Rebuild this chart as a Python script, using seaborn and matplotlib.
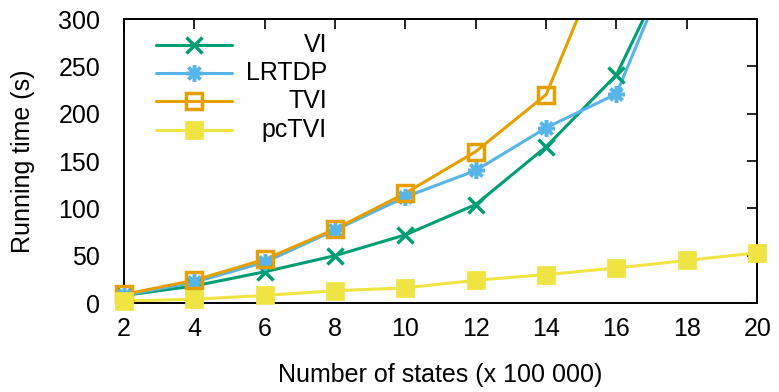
import matplotlib
matplotlib.use("Agg")
import matplotlib.pyplot as plt
import seaborn as sns
import numpy as np
from matplotlib.lines import Line2D

states = [2, 4, 6, 8, 10, 12, 14, 16, 18, 20]
vi = [8, 18, 33, 50, 72, 104, 165, 241, 395, 600]
lrtdp = [8, 22, 43, 77, 112, 140, 185, 221, 400, 600]
tvi = [9, 24, 46, 78, 116, 160, 220, 400, 600, 800]
pctvi = [2, 4, 8, 13, 16, 24, 30, 37, 45, 53]

series_names = ["VI", "LRTDP", "TVI", "pcTVI"]
series_values = [vi, lrtdp, tvi, pctvi]
colors = ["#009e73", "#56b4e9", "#e69f00", "#f0e442"]
markers = ["x", (8, 2, 0), "s", "s"]
msizes = [11, 12, 11, 13]
mfaces = [None, None, "none", None]
mews = [2.5, 2.5, 2.5, 0.5]

x_ticks = [2, 4, 6, 8, 10, 12, 14, 16, 18, 20]
y_ticks = [0, 50, 100, 150, 200, 250, 300]

sns.set_theme(style="white")
plt.rcParams["font.family"] = ["Liberation Sans", "DejaVu Sans"]
plt.rcParams["text.color"] = "black"
plt.rcParams["axes.labelcolor"] = "black"
FS = 18

fig = plt.figure(figsize=(7.79, 3.92), dpi=100)
ax = fig.add_axes([0.159, 0.227, 0.813, 0.7245])

for name, vals, c, m, ms, mf, mew in zip(series_names, series_values, colors, markers, msizes, mfaces, mews):
    sns.lineplot(x=states, y=vals, color=c, linewidth=2.2, ax=ax, zorder=2)
    xs = [s for s, v in zip(states, vals) if v <= 300]
    ys = [v for v in vals if v <= 300]
    kw = dict(markerfacecolor=c if mf is None else mf)
    sns.lineplot(x=xs, y=ys, color=c, linestyle="", marker=m, markersize=ms,
                 markeredgecolor=c, markeredgewidth=mew, clip_on=False, ax=ax, zorder=3, **kw)

ax.set_xlim(2, 20)
ax.set_ylim(0, 300)
ax.set_xticks(x_ticks)
ax.set_yticks(y_ticks)
ax.set_xticklabels([str(t) for t in x_ticks])
ax.set_yticklabels([str(t) for t in y_ticks])
ax.tick_params(direction="in", length=7, width=1.2, top=True, right=True,
               labelsize=FS, colors="black")
ax.tick_params(axis="y", pad=17)
ax.tick_params(axis="x", pad=10)
for sp in ax.spines.values():
    sp.set_visible(True)
    sp.set_color("black")
    sp.set_linewidth(1.4)
ax.set_xlabel("Number of states (x 100 000)", fontsize=FS, labelpad=16)
ax.set_ylabel("Running time (s)", fontsize=FS, labelpad=17)

# gnuplot-style legend, labels right aligned
rows = [0.908, 0.810, 0.711, 0.609]
for name, c, m, ms, mf, mew, yy in zip(series_names, colors, markers, msizes, mfaces, mews, rows):
    ax.add_line(Line2D([0.0506, 0.1706], [yy, yy], transform=ax.transAxes, color=c, linewidth=2.2, zorder=4))
    ax.add_line(Line2D([0.1106], [yy], transform=ax.transAxes, color=c, linestyle="", marker=m,
                       markersize=ms, markeredgecolor=c, markeredgewidth=mew,
                       markerfacecolor=c if mf is None else mf, zorder=5))
    ax.text(0.3207, yy, name, transform=ax.transAxes, ha="right", va="center", fontsize=FS, color="black")

fig.savefig("out.png", dpi=100)
